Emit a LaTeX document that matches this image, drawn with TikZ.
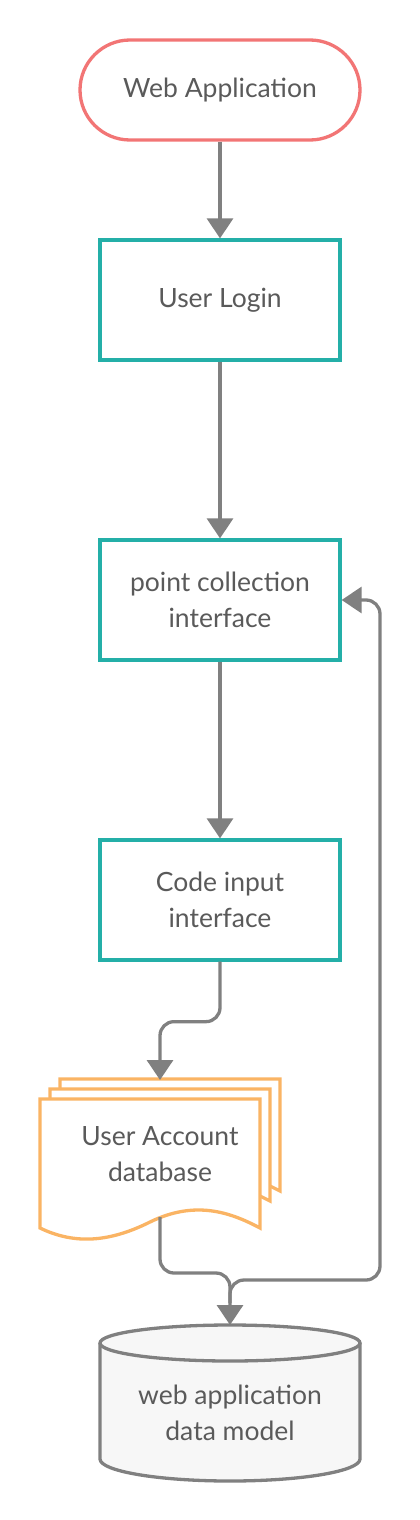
\documentclass[tikz,border=0pt]{standalone}
\usepackage{fontspec}
\setmainfont{Lato}
\usetikzlibrary{arrows.meta, positioning}
\definecolor{vermelho}{RGB}{242, 117, 117}
\definecolor{verdeagua}{RGB}{36, 175, 168}
\definecolor{laranja}{RGB}{250, 180, 100}
\definecolor{cinza}{RGB}{128, 128, 128}
\definecolor{textocinza}{RGB}{90, 90, 90}
\definecolor{fundo}{RGB}{247, 247, 247}
\tikzset{
  rotulo/.style={
    text=textocinza, align=center, font=\fontsize{26.5}{36}\selectfont
  },
  caixa/.style={
    rotulo, draw=verdeagua, line width=3.3pt, fill=white,
    minimum width=240pt, minimum height=120pt
  },
  inicio/.style={
    rotulo, draw=vermelho, line width=3.3pt, fill=white, rounded corners=50pt,
    minimum width=280pt, minimum height=100pt
  },
  folha/.style={draw=laranja, line width=3.3pt, fill=white},
  seta/.style={-{Triangle[length=20pt, width=26pt]}, line width=3.3pt, cinza, rounded corners=14pt},
}

\begin{document}
\begin{tikzpicture}[x=1pt, y=-1pt]

\useasboundingbox (0,0) rectangle (420,1520);

\node[inicio] (webapp) at (220,90) {Web Application};

\node[caixa] (login) at (220,300) {User Login};

\node[caixa] (coleta) at (220,600) {point collection\\interface};

\node[caixa] (codigo) at (220,900) {Code input\\interface};

\foreach \d in {20,10}
  \draw[folha] (40+\d,1180) -- (40+\d,1099-\d) -- (260+\d,1099-\d)
    -- (260+\d,1211-\d) -- (250+\d,1206-\d) -- cycle;
\draw[folha] (40,1228) -- (40,1099) -- (260,1099) -- (260,1228)
  .. controls (230,1212) and (195,1200) .. (150,1222)
  .. controls (110,1242) and (75,1245) .. (40,1228) -- cycle;
\node[rotulo] (conta) at (160,1154) {User Account\\database};
\coordinate (contatopo) at (160,1080);
\coordinate (contabase) at (160,1217);

\draw[cinza, line width=3.3pt, fill=fundo] (100,1343) -- (100,1459)
  arc[start angle=180, end angle=0, x radius=130, y radius=22] -- (360,1343);
\draw[cinza, line width=3.3pt, fill=fundo] (230,1343) ellipse [x radius=130, y radius=18];
\node[rotulo] (banco) at (230,1413) {web application\\data model};
\coordinate (bancotopo) at (230,1325);

\draw[seta] (webapp) -- (login);
\draw[seta] (login) -- (coleta);
\draw[seta] (coleta) -- (codigo);
\draw[seta] (codigo.south) -- ++(0,60) -| (contatopo);
\draw[seta] (contabase) -- ++(0,56) -| (bancotopo);
\draw[seta] ([yshift=22pt]bancotopo) -- ++(0,-23) -- ++(150,0) |- (coleta.east);

\end{tikzpicture}
\end{document}
